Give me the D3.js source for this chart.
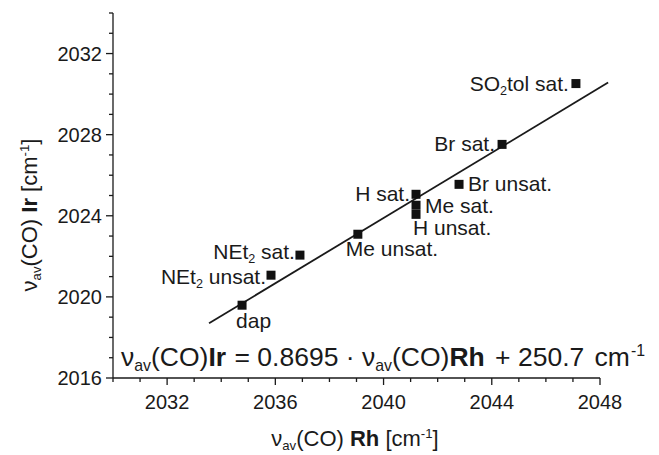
<!DOCTYPE html>
<html><head><meta charset="utf-8">
<script src="https://cdn.jsdelivr.net/npm/d3@7"></script>
<style>
html,body{margin:0;padding:0;background:#fff;}
text{font-family:"Liberation Sans",Arial,sans-serif;fill:#1a1a1a;}
</style></head>
<body><svg id="chart" width="659" height="455"></svg>
<script>
// ---- data ----
const labels = ["dap","NEt2 unsat.","NEt2 sat.","Me unsat.","H sat.","Me sat.","H unsat.","Br unsat.","Br sat.","SO2tol sat."];
const rhValues = [2034.77, 2035.84, 2036.91, 2039.05, 2041.2, 2041.2, 2041.2, 2042.79, 2044.38, 2047.11];
const irValues = [2019.59, 2021.07, 2022.06, 2023.09, 2025.06, 2024.52, 2024.07, 2025.55, 2027.52, 2030.52];
const fitRh = [2033.55, 2048.3];
const fitIr = [2018.7, 2030.57];
const xTicks = [2032, 2036, 2040, 2044, 2048];
const yTicks = [2016, 2020, 2024, 2028, 2032];
const xDomain = [2030, 2048];
const yDomain = [2016, 2034];

// ---- layout ----
const svg = d3.select("#chart");
const x = d3.scaleLinear().domain(xDomain).range([113, 600]);
const y = d3.scaleLinear().domain(yDomain).range([378, 13]);
const col = "#1a1a1a";
const LBL = 21;

const richParts = {
  "NEt2 unsat.": [{t:"NEt"},{t:"2",sub:true},{t:" unsat."}],
  "NEt2 sat.": [{t:"NEt"},{t:"2",sub:true},{t:" sat."}],
  "SO2tol sat.": [{t:"SO"},{t:"2",sub:true},{t:"tol sat."}]
};
const place = {
  "dap": {a:"start", dx:-6, dy:23},
  "NEt2 unsat.": {a:"end", dx:-5, dy:9},
  "NEt2 sat.": {a:"end", dx:-5, dy:4},
  "Me unsat.": {a:"start", dx:-12, dy:22},
  "H sat.": {a:"end", dx:-6, dy:7},
  "Me sat.": {a:"start", dx:9, dy:8},
  "H unsat.": {a:"start", dx:-3, dy:21},
  "Br unsat.": {a:"start", dx:9, dy:7},
  "Br sat.": {a:"end", dx:-7, dy:7},
  "SO2tol sat.": {a:"end", dx:-7, dy:7}
};

function rich(sel, parts, size){
  parts.forEach(p=>{
    const ts = sel.append("tspan").text(p.t);
    if(p.bold) ts.attr("font-weight","bold");
    if(p.dx) ts.attr("dx", p.dx);
    if(p.sub) ts.attr("font-size", size*0.6).attr("baseline-shift","-30%");
    if(p.sup) ts.attr("font-size", size*0.6).attr("baseline-shift","65%");
  });
}

// axes
const xAxisG = svg.append("g").attr("transform","translate(0,378)");
xAxisG.append("line").attr("x1",x(xDomain[0])).attr("x2",x(xDomain[1])).attr("stroke",col).attr("stroke-width",1.3);
const xMinor = d3.range(xDomain[0], xDomain[1]+0.5, 1);
xAxisG.selectAll(".xm").data(xMinor).join("line")
  .attr("x1",d=>x(d)).attr("x2",d=>x(d)).attr("y1",0)
  .attr("y2",d=>xTicks.includes(d)?7:4).attr("stroke",col).attr("stroke-width",1.3);
xAxisG.selectAll(".xl").data(xTicks).join("text")
  .attr("x",d=>x(d)).attr("y",31).attr("text-anchor","middle").attr("font-size",20).text(d=>d);

const yAxisG = svg.append("g").attr("transform","translate(113,0)");
yAxisG.append("line").attr("y1",y(yDomain[0])).attr("y2",y(yDomain[1])).attr("stroke",col).attr("stroke-width",1.3);
const yMinor = d3.range(yDomain[0], yDomain[1]+0.5, 1);
yAxisG.selectAll(".ym").data(yMinor).join("line")
  .attr("y1",d=>y(d)).attr("y2",d=>y(d)).attr("x1",0)
  .attr("x2",d=>yTicks.includes(d)?-7:-4).attr("stroke",col).attr("stroke-width",1.3);
yAxisG.selectAll(".yl").data(yTicks).join("text")
  .attr("x",-11).attr("y",d=>y(d)+7).attr("text-anchor","end").attr("font-size",20).text(d=>d);

// fit line
svg.append("line")
  .attr("x1",x(fitRh[0])).attr("y1",y(fitIr[0]))
  .attr("x2",x(fitRh[1])).attr("y2",y(fitIr[1]))
  .attr("stroke",col).attr("stroke-width",1.8);

// points
const pts = labels.map((l,i)=>({l, rh:rhValues[i], ir:irValues[i]}));
svg.selectAll(".pt").data(pts).join("rect")
  .attr("x",d=>x(d.rh)-4.5).attr("y",d=>y(d.ir)-4.5)
  .attr("width",9).attr("height",9).attr("fill","#111");

// point labels
pts.forEach(d=>{
  const p = place[d.l];
  const t = svg.append("text").attr("x",x(d.rh)+p.dx).attr("y",y(d.ir)+p.dy)
    .attr("text-anchor",p.a).attr("font-size",LBL);
  rich(t, richParts[d.l] || [{t:d.l}], LBL);
});

// equation
const eq = svg.append("text").attr("x",121).attr("y",366).attr("font-size",26.5);
rich(eq, [{t:"ν"},{t:"av",sub:true},{t:"(CO)"},{t:"Ir",bold:true},{t:" = 0.8695 · ν",dx:1},{t:"av",sub:true},{t:"(CO)"},{t:"Rh",bold:true},{t:" + 250.7",dx:3},{t:" cm",dx:3},{t:"-1",sup:true,dx:1}], 26.5);

// axis titles
const xt = svg.append("text").attr("x",355).attr("y",446).attr("text-anchor","middle").attr("font-size",22);
rich(xt, [{t:"ν"},{t:"av",sub:true},{t:"(CO) "},{t:"Rh",bold:true},{t:" [cm"},{t:"-1",sup:true},{t:"]"}], 22);
const yt = svg.append("text").attr("transform","translate(37,215) rotate(-90)").attr("text-anchor","middle").attr("font-size",22);
rich(yt, [{t:"ν"},{t:"av",sub:true},{t:"(CO) "},{t:"Ir",bold:true},{t:" [cm"},{t:"-1",sup:true},{t:"]"}], 22);
</script></body></html>
